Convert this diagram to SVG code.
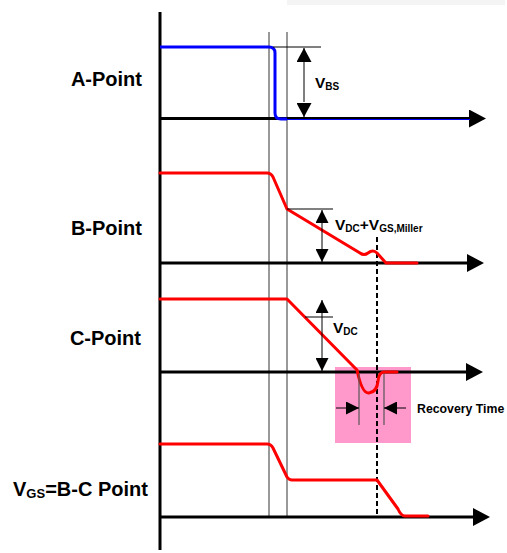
<svg xmlns="http://www.w3.org/2000/svg" width="507" height="553" viewBox="0 0 507 553">
<defs>
<style>
.lbl{font-family:"Liberation Sans",Arial,sans-serif;font-weight:bold;fill:#000}
.big{font-size:20px}
.v{font-size:15.5px}
.sub{font-size:10px}
.axis{stroke:#000;stroke-width:3;fill:none}
.thin{stroke:#000;stroke-width:1;fill:none}
.guide{stroke:#555;stroke-width:1.2;fill:none}
.red{stroke:#ff0000;stroke-width:3;fill:none;stroke-linejoin:round;stroke-linecap:round}
.blue{stroke:#0000ff;stroke-width:3;fill:none;stroke-linejoin:round}
.dash{stroke:#000;stroke-width:2;stroke-dasharray:5 3;fill:none}
</style>
<marker id="bigArrow" markerWidth="17" markerHeight="18" refX="0" refY="9" orient="auto" markerUnits="userSpaceOnUse">
<path d="M0,0 L17,9 L0,18 Z" fill="#000"/>
</marker>
<marker id="dimArrow" markerWidth="13" markerHeight="13" refX="13" refY="6.5" orient="auto" markerUnits="userSpaceOnUse">
<path d="M0,0 L13,6.5 L0,13 Z" fill="#000"/>
</marker>
<marker id="dimArrowL" markerWidth="14" markerHeight="15" refX="14" refY="7.5" orient="auto" markerUnits="userSpaceOnUse">
<path d="M0,0 L14,7.5 L0,15 Z" fill="#000"/>
</marker>
</defs>
<rect x="287" y="0" width="218" height="5" fill="#f4f4f4"/>
<rect id="recovery-box" x="335" y="367" width="76" height="76" fill="#ff99cc"/>
<g id="guides">
<line class="guide" x1="269" y1="32" x2="269" y2="517"/>
<line class="guide" x1="287" y1="32" x2="287" y2="517"/>
<line class="dash" x1="377" y1="237" x2="377" y2="517"/>
</g>
<g id="axes">
<line class="axis" x1="160" y1="12" x2="160" y2="550"/>
<line class="axis" x1="160" y1="118.5" x2="469" y2="118.5" marker-end="url(#bigArrow)"/>
<line class="axis" x1="160" y1="263" x2="467" y2="263" marker-end="url(#bigArrow)"/>
<line class="axis" x1="160" y1="372" x2="466" y2="372" marker-end="url(#bigArrow)"/>
<line class="axis" x1="160" y1="517" x2="473" y2="517" marker-end="url(#bigArrow)"/>
</g>
<g id="A-Point">
<text class="lbl big" x="142" y="86" text-anchor="end">A-Point</text>
<path class="blue" d="M160,47 H269 Q275,47 275,53 V113 Q275,119 281,119 H287"/>
<line x1="287" y1="119.5" x2="470" y2="119.5" stroke="#0000ff" stroke-width="1.2"/>
<line class="thin" x1="273" y1="47" x2="321" y2="47"/>
<line class="thin" x1="304" y1="62" x2="304" y2="102"/>
<line class="thin" x1="304" y1="56" x2="304" y2="48" marker-end="url(#dimArrowL)"/>
<line class="thin" x1="304" y1="109" x2="304" y2="117" marker-end="url(#dimArrowL)"/>
<text class="lbl" x="315" y="88"><tspan class="v">V</tspan><tspan class="sub" dy="2">BS</tspan></text>
</g>
<g id="B-Point">
<text class="lbl big" x="142" y="235" text-anchor="end">B-Point</text>
<path class="red" d="M160,173 H267 Q271,173 273,177 L287,209 L360,253 Q364,256 368,253 Q373,249 377,253 L386,263 H417"/>
<line class="thin" x1="287" y1="209" x2="333" y2="209"/>
<line class="thin" x1="322" y1="220" x2="322" y2="252"/>
<line class="thin" x1="322" y1="217" x2="322" y2="210" marker-end="url(#dimArrow)"/>
<line class="thin" x1="322" y1="255" x2="322" y2="262" marker-end="url(#dimArrow)"/>
<text class="lbl" x="335" y="230"><tspan class="v">V</tspan><tspan class="sub" dy="2">DC</tspan><tspan class="v" dy="-2">+V</tspan><tspan class="sub" dy="2">GS,Miller</tspan></text>
</g>
<g id="C-Point">
<text class="lbl big" x="141" y="345" text-anchor="end">C-Point</text>
<path class="red" d="M160,299 H287 L357,370 Q362,394 369,393 Q377,392 378,381 Q379,372 384,372 H397"/>
<line class="thin" x1="305" y1="317" x2="333" y2="317"/>
<line class="thin" x1="322" y1="310" x2="322" y2="362"/>
<line class="thin" x1="322" y1="307" x2="322" y2="300" marker-end="url(#dimArrow)"/>
<line class="thin" x1="322" y1="364" x2="322" y2="371" marker-end="url(#dimArrow)"/>
<text class="lbl" x="333" y="333"><tspan class="v">V</tspan><tspan class="sub" dy="2">DC</tspan></text>
</g>
<g id="recovery">
<line class="guide" x1="359" y1="374" x2="359" y2="425"/>
<line class="guide" x1="384" y1="374" x2="384" y2="425"/>
<line class="thin" x1="336" y1="408" x2="359" y2="408" marker-end="url(#dimArrow)"/>
<line class="thin" x1="406" y1="408" x2="384" y2="408" marker-end="url(#dimArrow)"/>
<text class="lbl" x="417" y="413" font-size="12.3">Recovery Time</text>
</g>
<g id="VGS">
<text class="lbl big" x="13" y="496"><tspan>V</tspan><tspan font-size="13" dy="2">GS</tspan><tspan dy="-2">=B-C Point</tspan></text>
<path class="red" d="M160,444 H267 Q271,444 273,448 L287,477 Q289,480 292,480 H377 L398,509 Q401,516 405,516 H428"/>
</g>
</svg>
